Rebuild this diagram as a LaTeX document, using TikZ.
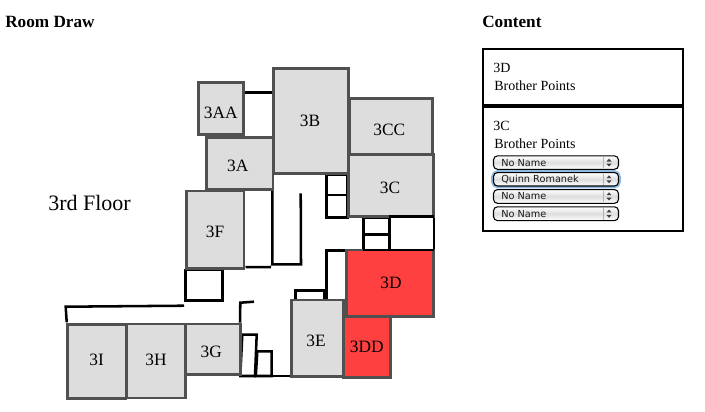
\documentclass[tikz,border=0pt]{standalone}
\usepackage{fontspec}
\setmainfont{Liberation Serif}
\newfontfamily\uifont{DejaVu Sans}
\usetikzlibrary{shadings}
\definecolor{roomgrey}{HTML}{DDDDDD}
\definecolor{roomedge}{HTML}{505050}
\definecolor{roomred}{HTML}{FF4040}
\definecolor{focusblue}{HTML}{8DB8E0}
\newcommand{\room}[6][roomgrey]{%
  \draw[roombox,fill=#1] (#2) rectangle (#3);
  \node[roomlabel] at (#4) {#5};}
\newcommand{\selectbox}[3]{%
  \draw[selbox,top color=white,bottom color=white,middle color=black!13] (493.5,#1) rectangle (618.5,#2);
  \draw[black!30,line width=0.6pt] (603,#1+1) -- (603,#2-1);
  \fill[black!75] (609,#1+2.8) -- (611.5,#1+5.6) -- (606.5,#1+5.6) -- cycle;
  \fill[black!75] (609,#2-2.8) -- (611.5,#2-5.6) -- (606.5,#2-5.6) -- cycle;
  \node[sellabel] at (501,{(#1+#2)/2}) {#3};}
\tikzset{
  x=0.75pt,y=-0.75pt,
  roombox/.style={draw=roomedge,line width=1.9pt},
  roomlabel/.style={font=\fontsize{13}{15}\selectfont,inner sep=0pt,text=black},
  wall/.style={draw=black,line width=1.9pt,line join=miter},
  panel/.style={draw=black,line width=1.7pt},
  heading/.style={font=\fontsize{12.9}{15}\selectfont\bfseries,anchor=base west,inner sep=0pt},
  paneltext/.style={font=\fontsize{10.5}{12}\selectfont,anchor=base west,inner sep=0pt},
  selbox/.style={draw=black,line width=0.8pt,rounded corners=3pt},
  sellabel/.style={font=\uifont\fontsize{7.3}{9}\selectfont,anchor=west,inner sep=0pt,text=black!90},
}
\begin{document}
\begin{tikzpicture}
\useasboundingbox (0,0) rectangle (705,411);
\node[heading] (title) at (5,27) {Room Draw};
\node[heading] (content) at (482,27) {Content};
\node[font=\fontsize{16.5}{19}\selectfont,inner sep=0pt] (floor) at (89.5,203) {3rd Floor};

% walls and closets
\draw[wall] (244,92.3) -- (274,92.3);
\draw[wall] (326.3,174.3) rectangle (347.7,195);
\draw[wall] (326.3,195) rectangle (347.7,217.7);
\draw[wall] (363.3,217.7) rectangle (389.3,234.3);
\draw[wall] (363.3,234.3) rectangle (389.3,250);
\draw[wall] (389.3,216.7) rectangle (434,250);
\draw[wall] (272.3,190) -- (272.3,264.3) -- (301,264.3) -- (300.7,193.3);
\draw[wall] (245.5,267.2) -- (271,267);
\draw[wall] (185.7,270) rectangle (222.3,300.3);
\draw[wall] (66.7,322.3) -- (65.7,306.7) -- (184,305.7);
\draw[wall] (240,322.7) -- (240.3,302.7) -- (254,301.7);
\draw[wall] (242.3,334.7) -- (256.7,334.7) -- (255,376) -- (240.3,376) -- cycle;
\draw[wall] (257.3,351.3) -- (271.7,351.3) -- (271.7,376) -- (255.8,376) -- cycle;
\draw[wall] (271.7,376) -- (292,376);
\draw[wall] (295.7,300.3) -- (295.7,290.7) -- (324.3,290.7) -- (324.3,300.3);
\draw[wall] (326.3,300.3) -- (326.3,250.7) -- (346,250.7) -- (346,300.3) -- cycle;

% rooms
\room{198.3,82.7}{243.7,134.7}{220.7,113.3}{3AA}{}
\room{206.3,137.3}{273,189.3}{237.7,165.7}{3A}{}
\room{273.7,68.7}{348.3,173.3}{310,120.7}{3B}{}
\room{350,98.3}{432.7,154.3}{389.3,130}{3CC}{}
\room{348.3,154.3}{433.3,216.7}{390,188.3}{3C}{}
\room{186.7,191}{244,268.3}{215,232.3}{3F}{}
\room{291.7,300}{343.7,376.7}{316,341.3}{3E}{}
\room{185.7,324}{240.3,374.7}{211.3,352.3}{3G}{}
\room{127,324}{185.7,398}{156,360}{3H}{}
\room{67.3,324.7}{126,398.7}{96.7,360}{3I}{}
\room[roomred]{346.3,250}{433.3,316.7}{391,283.3}{3D}{}
\room[roomred]{343.7,317}{390.3,377.3}{366.7,347.3}{3DD}{}
% walls that run over the room edges
\draw[wall] (389.3,216.7) -- (434,216.7);
\draw[wall] (363.3,250) -- (434,250);

% content panel
\draw[panel] (483,49) rectangle (683.3,105);
\draw[panel] (483,106.5) rectangle (683.3,231);
\node[paneltext] (d) at (493,72) {3D};
\node[paneltext] (dp) at (494,90) {Brother Points};
\node[paneltext] (c) at (493,130) {3C};
\node[paneltext] (cp) at (494,148) {Brother Points};
\selectbox{155.9}{169.3}{No Name}
\draw[focusblue,line width=2.2pt,rounded corners=4pt] (492.5,171.6) rectangle (619.5,187);
\selectbox{172.6}{186}{Quinn Romanek}
\selectbox{189.6}{203.3}{No Name}
\selectbox{206.8}{220.6}{No Name}
\end{tikzpicture}
\end{document}
